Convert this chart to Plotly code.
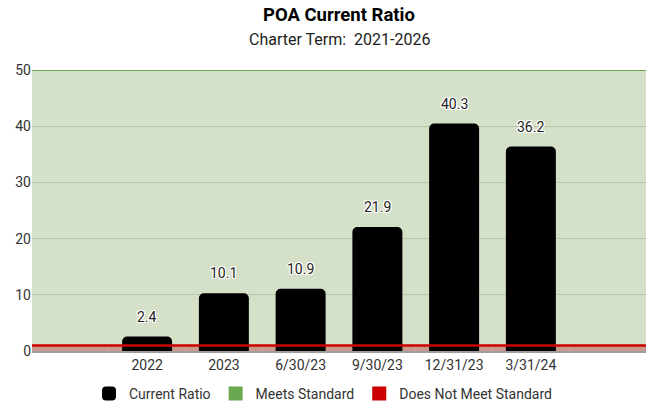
import plotly.graph_objects as go

categories = ["2022", "2023", "6/30/23", "9/30/23", "12/31/23", "3/31/24"]
current_ratio = [2.4, 10.1, 10.9, 21.9, 40.3, 36.2]
standard_threshold = 1
axis_max = 50
y_ticks = [0, 10, 20, 30, 40, 50]

slots = list(range(1, len(categories) + 1))  # slot 0 and last slot left empty
x_lo, x_hi = -0.5, len(categories) + 1.5
bg_slots = list(range(0, len(categories) + 2))

fig = go.Figure()

# pink "does not meet" band (0..threshold)
fig.add_trace(go.Bar(x=bg_slots, y=[standard_threshold] * len(bg_slots), base=0, width=1,
                     marker=dict(color="#c99a8a", line=dict(width=0)),
                     showlegend=False, hoverinfo="skip"))

# data bars
fig.add_trace(go.Bar(x=slots, y=current_ratio, width=0.625, name="Current Ratio",
                     marker=dict(color="#000000", line=dict(width=2, color="#000000"), cornerradius=4),
                     legendrank=1))

# threshold line and top standard line
fig.add_trace(go.Scatter(x=[x_lo, x_hi], y=[standard_threshold] * 2, mode="lines",
                         line=dict(color="#cc0000", width=2.5), showlegend=False, hoverinfo="skip"))
fig.add_trace(go.Scatter(x=[x_lo, x_hi], y=[axis_max] * 2, mode="lines",
                         line=dict(color="#6aa84f", width=2), showlegend=False, hoverinfo="skip"))

# legend entries
fig.add_trace(go.Bar(x=[None], y=[None], name="Meets Standard",
                     marker=dict(color="#6aa84f", line=dict(width=2, color="#6aa84f")), legendrank=2))
fig.add_trace(go.Bar(x=[None], y=[None], name="Does Not Meet Standard",
                     marker=dict(color="#cc0000", line=dict(width=2, color="#cc0000")), legendrank=3))

shadow = "1px 1px 0 #fff, -1px -1px 0 #fff, 1px -1px 0 #fff, -1px 1px 0 #fff, 0 1px 0 #fff, 0 -1px 0 #fff, 1px 0 0 #fff, -1px 0 0 #fff"
for xi, v in zip(slots, current_ratio):
    fig.add_annotation(x=xi, y=v, text=f"{v}", showarrow=False, yshift=21,
                       font=dict(family="Roboto", size=14, color="#222222", shadow=shadow))

fig.add_annotation(xref="paper", yref="paper", x=0.5, y=1.196, yanchor="middle",
                   text="<b>POA Current Ratio</b>",
                   showarrow=False, font=dict(family="Roboto", size=18.5, color="#000000"))
fig.add_annotation(xref="paper", yref="paper", x=0.5, y=1.11, yanchor="middle",
                   text="Charter Term:\u00a0 2021-2026",
                   showarrow=False, font=dict(family="Roboto", size=16, color="#222222"))

fig.update_layout(
    width=646, height=404,
    margin=dict(l=32, r=0, t=70, b=53, autoexpand=False),
    paper_bgcolor="#ffffff",
    plot_bgcolor="#d5e0c8",
    barmode="overlay",
    font=dict(family="Roboto", size=13, color="#444444"),
    xaxis=dict(range=[x_lo, x_hi], tickmode="array", tickvals=slots, ticktext=categories,
               showgrid=False, zeroline=False, showline=True, linecolor="#9e9e9e", linewidth=2,
               tickfont=dict(size=14, color="#333333"), ticks="", fixedrange=True, automargin=False),
    yaxis=dict(range=[0, axis_max], tickvals=y_ticks, gridcolor="#b4c9a3", gridwidth=1,
               zeroline=False, showline=False, ticks="", tickfont=dict(size=14, color="#333333"),
               fixedrange=True, automargin=False),
    legend=dict(orientation="h", xref="container", x=0.5, xanchor="center",
                y=-0.096, yanchor="top",
                font=dict(size=14, color="#333333"), itemwidth=30, traceorder="normal"),
    showlegend=True,
)

fig.write_html("out.html", config={"displayModeBar": False},
               post_script="document.body.style.margin='0';document.body.style.overflow='hidden';")
